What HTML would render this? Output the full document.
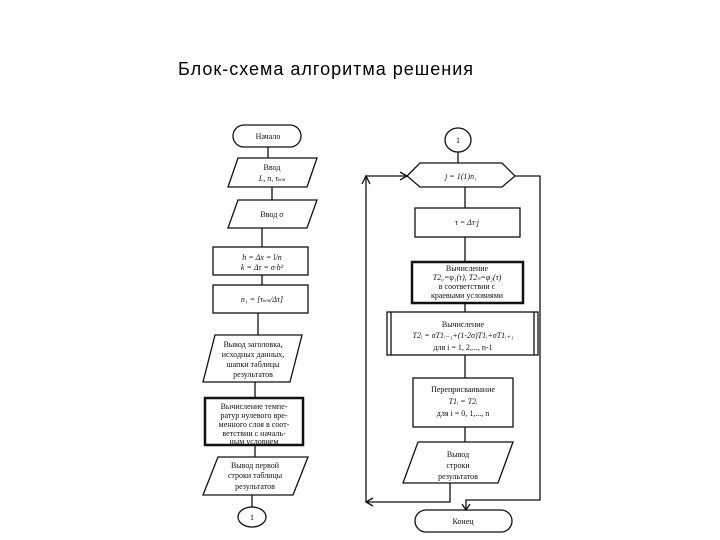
<!DOCTYPE html>
<html><head><meta charset="utf-8"><style>
html,body{margin:0;padding:0;background:#fff;}
svg{display:block;}
.t{font-family:"Liberation Serif",serif;font-size:8px;fill:#111;text-anchor:middle;}
</style></head><body>
<svg width="720" height="540" viewBox="0 0 720 540" xmlns="http://www.w3.org/2000/svg">
<text x="178" y="75" font-family="Liberation Sans, sans-serif" font-size="18" textLength="295" fill="#000">Блок-схема алгоритма решения</text>
<g stroke="#111" stroke-width="1.3" fill="#fff">
<!-- left column connectors -->
<path d="M268 147V158 M272 187V200 M262 228V247 M262 275V285 M258 313V335 M255 382V398 M255 445V457 M252 495V507" fill="none"/>
<rect x="233" y="125" width="68" height="22" rx="11"/>
<polygon points="238,158 317,158 307,187 228,187"/>
<polygon points="238,200 317,200 307,228 228,228"/>
<rect x="213" y="247" width="95" height="28"/>
<rect x="213" y="285" width="95" height="28"/>
<polygon points="215,335 302,335 290,382 203,382"/>
<rect x="205" y="398" width="98" height="47" stroke-width="2.5"/>
<polygon points="218,457 308,457 293,495 203,495"/>
<ellipse cx="252" cy="517" rx="14" ry="10"/>
<!-- right column -->
<path d="M458 152V163 M465 187V208 M465 237V262 M465 303V312 M465 355V378 M465 427V442 M450 483V502H366 M366 502V176H407 M515 176H540V500H466V510" fill="none"/>
<ellipse cx="458" cy="140" rx="13" ry="12"/>
<polygon points="407,176 420,163 502,163 515,176 502,187 420,187"/>
<rect x="415" y="208" width="105" height="29"/>
<rect x="412" y="262" width="111" height="41" stroke-width="2.5"/>
<rect x="387" y="312" width="151" height="43" stroke-width="1.3"/>
<path d="M391 312V355 M534 312V355" fill="none"/>
<rect x="413" y="378" width="100" height="49"/>
<polygon points="418,442 513,442 498,483 403,483"/>
<rect x="415" y="510" width="97" height="22" rx="11"/>
<path d="M400 172L407 176L400 180 M362 184L366 176L370 184 M373 498L366 502L373 506 M462 504L466 510L470 504" fill="none"/>
</g>
<text class="t" x="268" y="139">Начало</text>
<text class="t" x="272" y="170">Ввод</text>
<text class="t" x="272" y="181" font-style="italic">L, n, τ<tspan font-size="5">кон</tspan></text>
<text class="t" x="272" y="217">Ввод σ</text>
<text class="t" x="262" y="260" font-style="italic">h = Δx = l/n</text>
<text class="t" x="262" y="270" font-style="italic">k = Δτ = σ·h²</text>
<text class="t" x="262" y="302" font-style="italic">n₁ = [τ<tspan font-size="5">кон</tspan>/Δτ]</text>
<text class="t" x="253" y="347">Вывод заголовка,</text>
<text class="t" x="253" y="357">исходных данных,</text>
<text class="t" x="253" y="367">шапки таблицы</text>
<text class="t" x="253" y="377">результатов</text>
<text class="t" x="254" y="409">Вычисление темпе-</text>
<text class="t" x="254" y="418">ратур нулевого вре-</text>
<text class="t" x="254" y="427">менного слоя в соот-</text>
<text class="t" x="254" y="436">ветствии с началь-</text>
<text class="t" x="254" y="444">ным условием</text>
<text class="t" x="255" y="468">Вывод первой</text>
<text class="t" x="255" y="478">строки таблицы</text>
<text class="t" x="255" y="489">результатов</text>
<text class="t" x="252" y="520">1</text>
<text class="t" x="458" y="143">1</text>
<text class="t" x="461" y="179" font-style="italic">j = 1(1)n₁</text>
<text class="t" x="467" y="225" font-style="italic">τ = Δτ·j</text>
<text class="t" x="467" y="271">Вычисление</text>
<text class="t" x="467" y="280" font-style="italic">T2₀=φ₁(τ),  T2ₙ=φ₂(τ)</text>
<text class="t" x="467" y="289">в соответствии с</text>
<text class="t" x="467" y="298">краевыми условиями</text>
<text class="t" x="463" y="327">Вычисление</text>
<text class="t" x="463" y="338" font-style="italic">T2ᵢ = σT1ᵢ₋₁+(1-2σ)T1ᵢ+σT1ᵢ₊₁</text>
<text class="t" x="463" y="350">для i = 1, 2,..., n-1</text>
<text class="t" x="463" y="392">Переприсваивание</text>
<text class="t" x="463" y="404" font-style="italic">T1ᵢ = T2ᵢ</text>
<text class="t" x="463" y="416">для i = 0, 1,..., n</text>
<text class="t" x="458" y="457">Вывод</text>
<text class="t" x="458" y="468">строки</text>
<text class="t" x="458" y="479">результатов</text>
<text class="t" x="463" y="524">Конец</text>
</svg>
</body></html>
